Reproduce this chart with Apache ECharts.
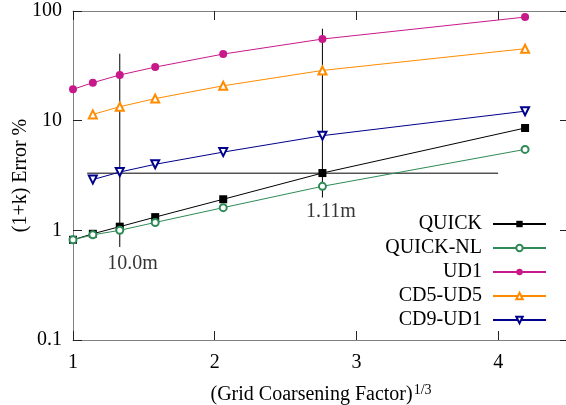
<!DOCTYPE html>
<html>
<head>
<meta charset="utf-8">
<script src="https://cdn.jsdelivr.net/npm/echarts@6/dist/echarts.min.js"></script>
<style>
  html, body { margin: 0; padding: 0; background: #fff; }
  #chart { width: 566px; height: 405px; }
</style>
</head>
<body>
<div id="chart"></div>
<script>
// x positions: (grid coarsening factor)^(1/3)
const xAll = [1.0, 1.14, 1.33, 1.58, 2.06, 2.76, 4.19];
const xFrom2 = [1.14, 1.33, 1.58, 2.06, 2.76, 4.19];

const quick = [0.82, 0.93, 1.08, 1.32, 1.92, 3.33, 8.57];
const quickNL = [0.82, 0.91, 1.0, 1.18, 1.61, 2.52, 5.47];
const ud1 = [19.3, 22.2, 26.1, 30.8, 40.5, 55.5, 88.0];
const cd5ud5 = [11.4, 13.4, 15.9, 20.8, 28.7, 45.3];
const cd9ud1 = [2.9, 3.4, 4.0, 5.17, 7.3, 12.2];

const seriesNames = ['QUICK', 'QUICK-NL', 'UD1', 'CD5-UD5', 'CD9-UD1'];
const seriesColors = ['#000000', '#2e8b57', '#c8198a', '#ff8c00', '#00008b'];

// reference lines and their labels
const hLine = [[1.1, 3.32], [4.0, 3.32]];
const vLine1 = [[1.33, 40.8], [1.33, 0.705]];
const vLine2 = [[2.76, 68.9], [2.76, 1.99]];
const noteLabels = [[1.42, 0.5, '10.0m'], [2.82, 1.47, '1.11m']];

const xTicks = [1, 2, 3, 4];

const font = 'Liberation Serif';

function pairs(xs, ys) {
    return ys.map((v, i) => [xs[i], v]);
}

const chart = echarts.init(document.getElementById('chart'), null, { renderer: 'canvas' });

const symbols = [
    { symbol: 'rect', size: 8, rotate: 0 },
    { symbol: 'emptyCircle', size: 7, rotate: 0 },
    { symbol: 'circle', size: 8, rotate: 0 },
    { symbol: 'emptyTriangle', size: 8, rotate: 0 },
    { symbol: 'emptyTriangle', size: 8, rotate: 180 }
];
const seriesData = [
    pairs(xAll, quick),
    pairs(xAll, quickNL),
    pairs(xAll, ud1),
    pairs(xFrom2, cd5ud5),
    pairs(xFrom2, cd9ud1)
];

const refLine = (data) => ({
    type: 'line',
    data: data,
    symbol: 'none',
    silent: true,
    lineStyle: { color: '#000', width: 1 },
    z: 1
});

const series = [refLine(hLine), refLine(vLine1), refLine(vLine2)];

seriesNames.forEach((name, i) => {
    series.push({
        name: name,
        type: 'line',
        data: seriesData[i],
        symbol: symbols[i].symbol,
        symbolSize: symbols[i].size,
        symbolRotate: symbols[i].rotate,
        color: seriesColors[i],
        lineStyle: { width: 1, color: seriesColors[i] },
        itemStyle: { color: seriesColors[i], borderWidth: 1.5 },
        z: 3
    });
});

series.push({
    type: 'scatter',
    data: noteLabels,
    symbolSize: 0,
    silent: true,
    label: {
        show: true,
        position: 'inside',
        formatter: (p) => p.data[2],
        fontFamily: font,
        fontSize: 20,
        color: '#000'
    }
});

const legends = seriesNames.map((name, i) => ({
    data: [name],
    orient: 'vertical',
    right: 19,
    top: 214 + i * 24,
    align: 'right',
    itemWidth: 53,
    itemHeight: 8,
    itemGap: 0,
    padding: 0,
    textStyle: { fontFamily: font, fontSize: 20, color: '#000', padding: [0, 6, 0, 0] }
}));

const axisLineStyle = { show: true, lineStyle: { color: '#808080', width: 1 } };
const tickStyle = { show: true, inside: true, length: 9, lineStyle: { color: '#222', width: 1 } };

chart.setOption({
    animation: false,
    backgroundColor: '#fff',
    grid: { left: 73, top: 11, right: -3, bottom: 65, outerBoundsMode: 'none', containLabel: false },
    legend: legends,
    xAxis: [{
        type: 'value',
        min: 1,
        max: 4.5,
        interval: 1,
        position: 'bottom',
        axisLine: axisLineStyle,
        axisTick: tickStyle,
        splitLine: { show: false },
        axisLabel: {
            fontFamily: font, fontSize: 20, color: '#000', margin: 13,
            showMaxLabel: false,
            formatter: (v) => xTicks.includes(v) ? String(v) : ''
        },
        name: '{a|(Grid Coarsening Factor)}{b|1/3}',
        nameLocation: 'middle',
        nameGap: 43,
        nameMoveOverlap: false,
        nameTextStyle: {
            rich: {
                a: { fontFamily: font, fontSize: 20, color: '#000' },
                b: { fontFamily: font, fontSize: 14, color: '#000', padding: [0, 0, 10, 1] }
            }
        }
    }, {
        type: 'value',
        min: 1,
        max: 4.5,
        interval: 1,
        position: 'top',
        axisLine: axisLineStyle,
        axisTick: tickStyle,
        splitLine: { show: false },
        axisLabel: { show: false }
    }],
    yAxis: [{
        type: 'log',
        logBase: 10,
        min: 0.1,
        max: 100,
        position: 'left',
        axisLine: axisLineStyle,
        axisTick: tickStyle,
        minorTick: { show: false },
        splitLine: { show: false },
        axisLabel: { fontFamily: font, fontSize: 20, color: '#000', margin: 11 },
        name: '(1+k) Error %',
        nameLocation: 'middle',
        nameGap: 42,
        nameMoveOverlap: false,
        nameTextStyle: { fontFamily: font, fontSize: 20, color: '#000' }
    }, {
        type: 'log',
        logBase: 10,
        min: 0.1,
        max: 100,
        position: 'right',
        axisLine: axisLineStyle,
        axisTick: tickStyle,
        splitLine: { show: false },
        axisLabel: { show: false }
    }],
    series: series
});
</script>
</body>
</html>
